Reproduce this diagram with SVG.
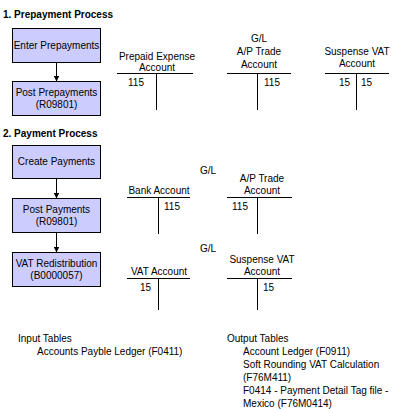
<svg xmlns="http://www.w3.org/2000/svg" width="418" height="409" viewBox="0 0 418 409">
<defs>
<marker id="ah" viewBox="0 0 6 6" refX="5.5" refY="3" markerWidth="6" markerHeight="6" markerUnits="userSpaceOnUse" orient="auto">
<path d="M0,0 L6,3 L0,6 z" fill="#000"/>
</marker>
</defs>
<style>
text{font-family:"Liberation Sans",Arial,sans-serif;font-size:10px;fill:#000}
.h{font-weight:bold}
.c{text-anchor:middle}
.box{fill:#ccccff;stroke:#000;stroke-width:1}
.t{stroke:#000;stroke-width:1;fill:none}
.conn{stroke:#000;stroke-width:1;fill:none;marker-end:url(#ah)}
</style>
<rect width="418" height="409" fill="#fff"/>
<text class="h" x="3" y="18">1. Prepayment Process</text>
<text class="h" x="3" y="137">2. Payment Process</text>

<g id="enter-prepayments"><rect class="box" x="12.5" y="28.5" width="88" height="34"/><text class="c" x="56.5" y="49">Enter Prepayments</text></g>
<g id="post-prepayments"><rect class="box" x="12.5" y="81.5" width="88" height="34"/><text class="c" x="56.5" y="96">Post Prepayments</text><text class="c" x="56.5" y="108">(R09801)</text></g>
<g id="create-payments"><rect class="box" x="12.5" y="145.5" width="88" height="33"/><text class="c" x="56.5" y="165">Create Payments</text></g>
<g id="post-payments"><rect class="box" x="12.5" y="198.5" width="88" height="34"/><text class="c" x="56.5" y="213">Post Payments</text><text class="c" x="56.5" y="225">(R09801)</text></g>
<g id="vat-redistribution"><rect class="box" x="12.5" y="252.5" width="88" height="34"/><text class="c" x="56.5" y="267">VAT Redistribution</text><text class="c" x="56.5" y="279">(B0000057)</text></g>

<g id="connectors">
<line class="conn" x1="56.5" y1="63" x2="56.5" y2="81"/>
<line class="conn" x1="56.5" y1="179" x2="56.5" y2="198"/>
<line class="conn" x1="56.5" y1="233" x2="56.5" y2="252"/>
</g>

<g id="prepaid-expense-account">
<text class="c" x="157" y="60">Prepaid Expense</text><text class="c" x="157" y="71">Account</text>
<path class="t" d="M117,73.5 H193 M156.5,73.5 V110"/>
<text x="128" y="86">115</text>
</g>
<g id="ap-trade-account-1">
<text class="c" x="259" y="42">G/L</text><text class="c" x="259" y="55">A/P Trade</text><text class="c" x="259" y="68">Account</text>
<path class="t" d="M227,73.5 H291 M257.5,73.5 V110"/>
<text x="264" y="86">115</text>
</g>
<g id="suspense-vat-account-1">
<text class="c" x="357" y="55">Suspense VAT</text><text class="c" x="357" y="67">Account</text>
<path class="t" d="M325,73.5 H389 M356.5,73.5 V110"/>
<text x="339" y="86">15</text><text x="361" y="86">15</text>
</g>

<text class="c" x="208" y="174">G/L</text>
<g id="bank-account">
<text class="c" x="159" y="194">Bank Account</text>
<path class="t" d="M127,197.5 H190 M158.5,197.5 V234"/>
<text x="164" y="210">115</text>
</g>
<g id="ap-trade-account-2">
<text class="c" x="262" y="182">A/P Trade</text><text class="c" x="262" y="194">Account</text>
<path class="t" d="M227,197.5 H292 M257.5,197.5 V234"/>
<text x="232" y="210">115</text>
</g>

<text class="c" x="208" y="252">G/L</text>
<g id="vat-account">
<text class="c" x="159" y="275">VAT Account</text>
<path class="t" d="M127,278.5 H190 M158.5,278.5 V310"/>
<text x="140" y="291">15</text>
</g>
<g id="suspense-vat-account-2">
<text class="c" x="262" y="263">Suspense VAT</text><text class="c" x="262" y="275">Account</text>
<path class="t" d="M227,278.5 H292 M257.5,278.5 V310"/>
<text x="263" y="291">15</text>
</g>

<g id="input-tables">
<text x="18" y="342">Input Tables</text>
<text x="37" y="355">Accounts Payble Ledger (F0411)</text>
</g>
<g id="output-tables">
<text x="227" y="342">Output Tables</text>
<text x="243" y="355">Account Ledger (F0911)</text>
<text x="243" y="368">Soft Rounding VAT Calculation</text>
<text x="243" y="381">(F76M411)</text>
<text x="243" y="394">F0414 - Payment Detail Tag file -</text>
<text x="243" y="407">Mexico (F76M0414)</text>
</g>
</svg>
